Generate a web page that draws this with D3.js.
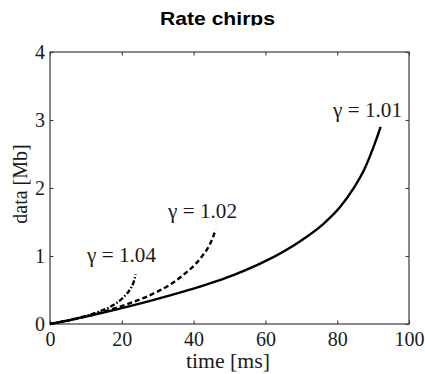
<!DOCTYPE html>
<html>
<head>
<meta charset="utf-8">
<script src="https://cdn.jsdelivr.net/npm/d3@7"></script>
<style>
  html, body { margin: 0; padding: 0; background: #fff; }
  svg { display: block; }
  .serif { font-family: "Liberation Serif", "Times New Roman", Times, "DejaVu Serif", serif; }
  .title { font-family: "Liberation Sans", Arial, Helvetica, sans-serif; font-weight: bold; }
</style>
</head>
<body>
<svg id="chart" width="425" height="374"></svg>
<script>
// Cumulative data sent over time for chirps with growth factor gamma
const time101 = [0, 9.3, 18.6, 27.9, 37.1, 41.8, 46.4, 51.1, 60.4, 69.6, 76.1, 80.8, 84.5, 87.7, 90.1, 92.1];
const data101 = [0, 0.10, 0.215, 0.34, 0.475, 0.55, 0.63, 0.72, 0.935, 1.215, 1.47, 1.72, 1.99, 2.29, 2.60, 2.90];

const time102 = [0, 9.3, 18.6, 23.2, 27.9, 33.0, 37.1, 41.8, 44.6, 45.5, 46.1];
const data102 = [0, 0.10, 0.24, 0.325, 0.425, 0.565, 0.72, 0.96, 1.18, 1.29, 1.39];

const time104 = [0, 6.0, 10.0, 13.0, 16.7, 20.4, 22.3, 23.2, 23.9];
const data104 = [0, 0.065, 0.12, 0.17, 0.25, 0.39, 0.51, 0.60, 0.73];

const xTicks = [0, 20, 40, 60, 80, 100];
const yTicks = [0, 1, 2, 3, 4];

const seriesLabels = ["γ = 1.01", "γ = 1.02", "γ = 1.04"];

const svg = d3.select("#chart");
const plotLeft = 50, plotRight = 409, plotTop = 52, plotBottom = 324;

const x = d3.scaleLinear().domain([0, 100]).range([plotLeft, plotRight]);
const y = d3.scaleLinear().domain([0, 4]).range([plotBottom, plotTop]);

const axisColor = "#3a3a3a";

// Title, with its lower edge trimmed
svg.append("clipPath").attr("id", "titleClip")
  .append("rect").attr("x", 0).attr("y", 0).attr("width", 425).attr("height", 25.5);
svg.append("text")
  .attr("class", "title")
  .attr("clip-path", "url(#titleClip)")
  .attr("x", 160).attr("y", 25)
  .attr("font-size", 18.5)
  .attr("textLength", 115)
  .attr("lengthAdjust", "spacingAndGlyphs")
  .attr("fill", "#000")
  .text("Rate chirps");

// Axes: inward ticks on all four sides of the box
function styleAxis(g) {
  g.attr("font-family", null);
  g.select(".domain").remove();
  g.selectAll(".tick line").attr("stroke", axisColor).attr("stroke-width", 1.1);
  g.selectAll(".tick text").attr("class", "serif").attr("font-size", 20).attr("fill", "#1a1a1a");
}

svg.append("g").attr("transform", `translate(0,${plotBottom})`)
  .call(d3.axisBottom(x).tickValues(xTicks).tickSizeInner(-3.5).tickSizeOuter(0).tickPadding(0).tickFormat(d3.format("d")))
  .call(styleAxis)
  .call(g => g.selectAll(".tick text").attr("y", 22).attr("dy", 0));

svg.append("g").attr("transform", `translate(0,${plotTop})`)
  .call(d3.axisTop(x).tickValues(xTicks).tickSizeInner(-3.5).tickSizeOuter(0).tickFormat(""))
  .call(styleAxis);

svg.append("g").attr("transform", `translate(${plotLeft},0)`)
  .call(d3.axisLeft(y).tickValues(yTicks).tickSizeInner(-3.5).tickSizeOuter(0).tickFormat(d3.format("d")))
  .call(styleAxis)
  .call(g => g.selectAll(".tick text").attr("x", -5).attr("dy", "0.34em"));

svg.append("g").attr("transform", `translate(${plotRight},0)`)
  .call(d3.axisRight(y).tickValues(yTicks).tickSizeInner(-3.5).tickSizeOuter(0).tickFormat(""))
  .call(styleAxis);

// Box
svg.append("rect")
  .attr("x", plotLeft).attr("y", plotTop)
  .attr("width", plotRight - plotLeft).attr("height", plotBottom - plotTop)
  .attr("fill", "none").attr("stroke", axisColor).attr("stroke-width", 1.2);

// Axis labels
svg.append("text")
  .attr("class", "serif")
  .attr("x", 186).attr("y", 368)
  .attr("font-size", 20)
  .attr("textLength", 84).attr("lengthAdjust", "spacingAndGlyphs")
  .attr("fill", "#1a1a1a")
  .text("time [ms]");

svg.append("text")
  .attr("class", "serif")
  .attr("transform", "translate(26.5,184) rotate(-90)")
  .attr("text-anchor", "middle")
  .attr("font-size", 20)
  .attr("fill", "#1a1a1a")
  .text("data [Mb]");

// Curves
const line = d3.line()
  .x(d => x(d[0]))
  .y(d => y(d[1]))
  .curve(d3.curveMonotoneX);

const series = [
  { t: time101, v: data101, dash: null },
  { t: time102, v: data102, dash: "5,3" },
  { t: time104, v: data104, dash: "5,2,1.5,2" }
];

svg.append("g").selectAll("path")
  .data(series)
  .join("path")
  .attr("d", s => line(d3.zip(s.t, s.v)))
  .attr("fill", "none")
  .attr("stroke", "#000")
  .attr("stroke-width", 2.4)
  .attr("stroke-dasharray", s => s.dash);

// Curve labels
const labelPos = [[333, 117], [168, 218], [87, 262]];
svg.append("g").selectAll("text")
  .data(seriesLabels)
  .join("text")
  .attr("class", "serif")
  .attr("x", (d, i) => labelPos[i][0])
  .attr("y", (d, i) => labelPos[i][1])
  .attr("font-size", 20)
  .attr("textLength", 69).attr("lengthAdjust", "spacingAndGlyphs")
  .attr("fill", "#1a1a1a")
  .text(d => d);
</script>
</body>
</html>
